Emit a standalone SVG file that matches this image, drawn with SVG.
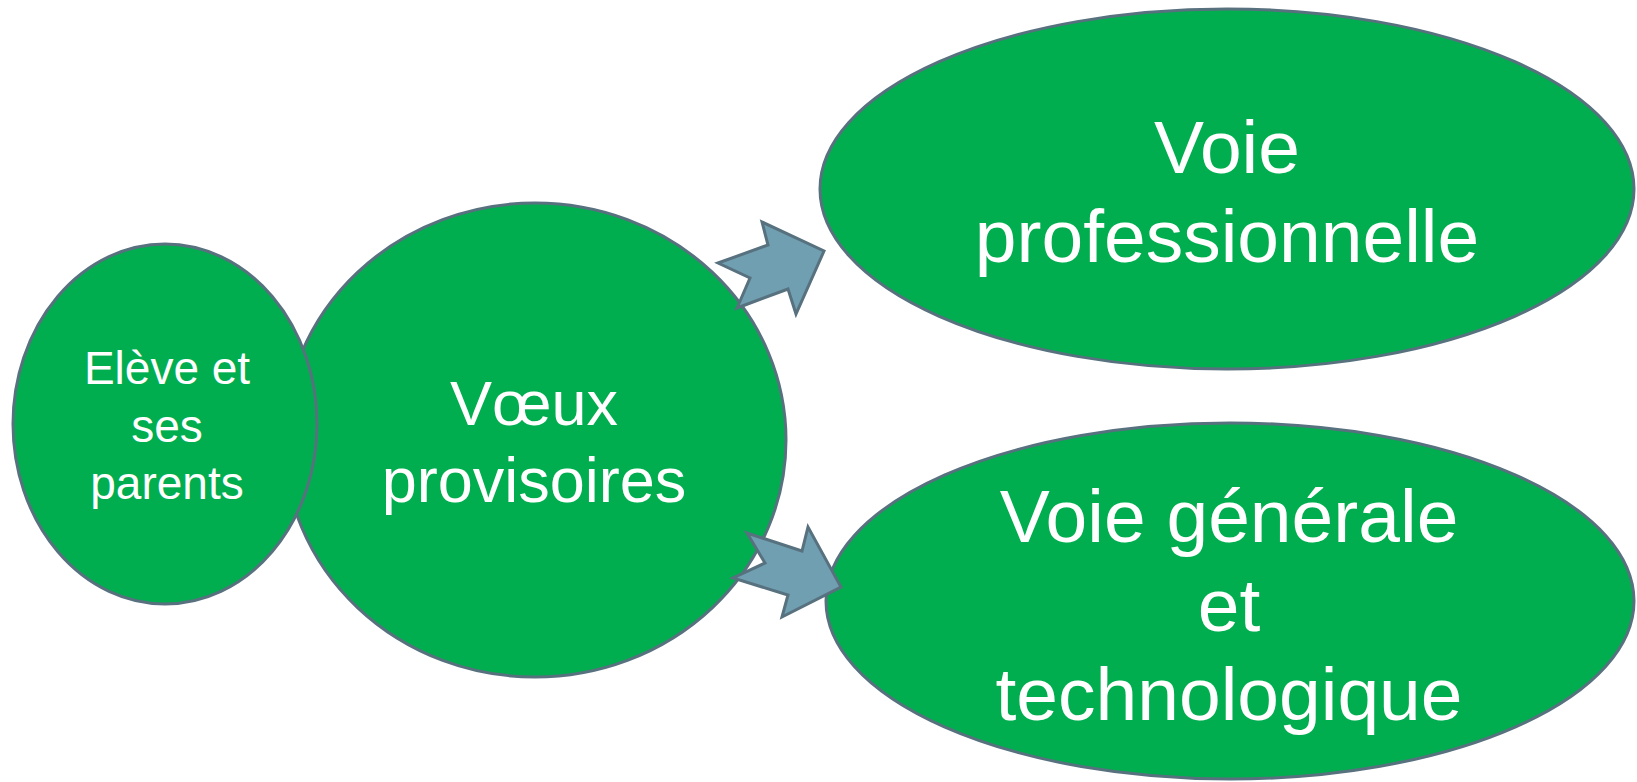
<svg xmlns="http://www.w3.org/2000/svg" width="1637" height="782" viewBox="0 0 1637 782">
<style>
.node{fill:#00AE4F;stroke:#58717F;stroke-width:3}
.arrow{fill:#6F9FB0;stroke:#58717F;stroke-width:3;stroke-linejoin:miter}
text{font-family:"Liberation Sans",Arial,sans-serif;fill:#FFFFFF;text-anchor:middle}
</style>
<rect width="1637" height="782" fill="#FFFFFF"/>
<g id="voeux">
<ellipse class="node" cx="535" cy="440" rx="251" ry="237"/>
<text font-size="63"><tspan x="534" y="425">Vœux</tspan><tspan x="534" y="502">provisoires</tspan></text>
</g>
<g id="eleve">
<ellipse class="node" cx="165" cy="424" rx="152" ry="180"/>
<text font-size="46"><tspan x="167" y="384">Elève et</tspan><tspan x="167" y="442">ses</tspan><tspan x="167" y="499">parents</tspan></text>
</g>
<g id="pro">
<ellipse class="node" cx="1227" cy="189" rx="407" ry="180"/>
<text font-size="75"><tspan x="1227" y="173">Voie</tspan><tspan x="1227" y="262">professionnelle</tspan></text>
</g>
<g id="gt">
<ellipse class="node" cx="1230" cy="601" rx="404" ry="178"/>
<text font-size="75"><tspan x="1229" y="542">Voie générale</tspan><tspan x="1229" y="631">et</tspan><tspan x="1229" y="720">technologique</tspan></text>
</g>
<g id="connectors">
<polygon class="arrow" points="718,263 768,245 762,222 824,251 796,314 788,289 737,308 750,278"/>
<polygon class="arrow" points="747,533 802,551 808,527 841,587 782,617 788,595 733,578 765,563"/>
</g>
</svg>
